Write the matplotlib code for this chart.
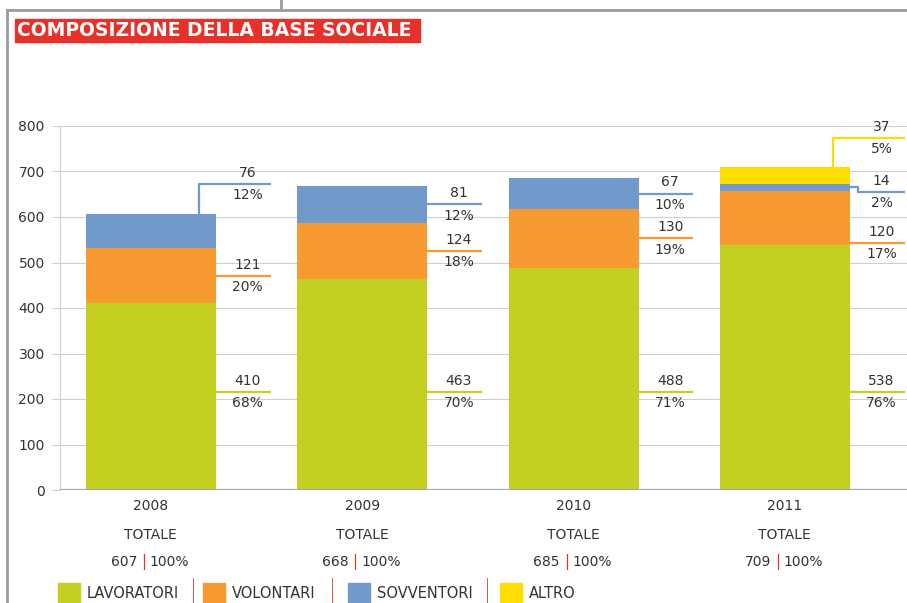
import numpy as np
import matplotlib.pyplot as plt
from matplotlib.patches import Rectangle
from matplotlib.lines import Line2D

# data
years = ['2008', '2009', '2010', '2011']
lavoratori = [410, 463, 488, 538]
volontari = [121, 124, 130, 120]
sovventori = [76, 81, 67, 14]
altro = [0, 0, 0, 37]
pct_lav = ['68%', '70%', '71%', '76%']
pct_vol = ['20%', '18%', '19%', '17%']
pct_sov = ['12%', '12%', '10%', '2%']
pct_altro = ['', '', '', '5%']
totals = [607, 668, 685, 709]

GREEN = '#C3CF21'
ORANGE = '#F79A31'
BLUE = '#7199C9'
YELLOW = '#FFDD00'
RED = '#E8302A'
TXT = '#333333'
GRID = '#CFCFCF'

W, H = 907, 603


def fx(px):
    return px / W


def fy(py):
    return 1 - py / H


fig = plt.figure(figsize=(W / 100, H / 100), dpi=100)
ax = fig.add_axes([fx(60), fy(490), fx(907) - fx(60), fy(126) - fy(490)])

x = np.arange(len(years))
bw = 0.615
lav = np.array(lavoratori)
vol = np.array(volontari)
sov = np.array(sovventori)
alt = np.array(altro)

ax.bar(x, lav, bw, color=GREEN, zorder=2)
ax.bar(x, vol, bw, bottom=lav, color=ORANGE, zorder=2)
ax.bar(x, sov, bw, bottom=lav + vol, color=BLUE, zorder=2)
ax.bar(x, alt, bw, bottom=lav + vol + sov, color=YELLOW, zorder=2)

ax.set_xlim(-0.43, 3.578)
ax.set_ylim(0, 800)
ax.set_yticks(range(0, 801, 100))
ax.set_xticks([])
ax.grid(axis='y', color=GRID, lw=0.8, zorder=0)
for s in ['top', 'right', 'bottom']:
    ax.spines[s].set_visible(False)
ax.spines['left'].set_color(GRID)
ax.spines['left'].set_linewidth(0.8)
ax.tick_params(axis='y', colors=GRID, length=6, width=0.8, labelcolor=TXT,
               labelsize=10, pad=5)
ax.axhline(0, color='#A8A8A8', lw=1.6, zorder=3)

LL = 0.26  # length of the label leader lines


def put_label(xs, ys, val, pct, color, tx):
    ax.add_line(Line2D(xs, ys, color=color, lw=1.6, zorder=4, clip_on=False,
                       solid_capstyle='butt'))
    ax.annotate(str(val), (tx, ys[-1]), xytext=(0, 3), textcoords='offset points',
                ha='center', va='bottom', fontsize=10, color=TXT)
    ax.annotate(pct, (tx, ys[-1]), xytext=(0, -3), textcoords='offset points',
                ha='center', va='top', fontsize=10, color=TXT)


LAV_Y = 215
for i in range(len(years)):
    right = x[i] + bw / 2
    tx = right + 0.15
    top = totals[i]
    # lavoratori
    put_label([right, right + LL], [LAV_Y, LAV_Y], lav[i], pct_lav[i], GREEN, tx)
    # volontari
    vy = lav[i] + vol[i] / 2
    if alt[i] > 0:
        vy = lav[i] + 5
    put_label([right, right + LL], [vy, vy], vol[i], pct_vol[i], ORANGE, tx)
    # sovventori
    sy = lav[i] + vol[i] + sov[i] / 2
    if i == 0:
        xv = right - 0.08
        put_label([xv, xv, right + LL], [top, top + 65, top + 65],
                  sov[i], pct_sov[i], BLUE, tx)
    elif alt[i] > 0:
        put_label([right, right + 0.04, right + 0.04, right + LL],
                  [sy, sy, sy - 10, sy - 10], sov[i], pct_sov[i], BLUE, tx)
    else:
        put_label([right, right + LL], [sy, sy], sov[i], pct_sov[i], BLUE, tx)
    # altro
    if alt[i] > 0:
        xv = right - 0.08
        put_label([xv, xv, right + LL], [top, top + 65, top + 65],
                  alt[i], pct_altro[i], YELLOW, tx)

# labels under the bars
tr = ax.get_xaxis_transform()
for i, yr in enumerate(years):
    ax.text(x[i], -0.044, yr, transform=tr, ha='center', va='center',
            fontsize=10, color=TXT)
    ax.text(x[i], -0.124, 'TOTALE', transform=tr, ha='center', va='center',
            fontsize=10, color=TXT)
    sep = x[i] - 0.035
    ax.text(sep - 0.03, -0.198, str(totals[i]), transform=tr, ha='right',
            va='center', fontsize=10, color=TXT)
    ax.text(sep, -0.198, '|', transform=tr, ha='center', va='center',
            fontsize=10.5, color=RED)
    ax.text(sep + 0.03, -0.198, '100%', transform=tr, ha='left', va='center',
            fontsize=10, color=TXT)

# legend
legend_items = ['LAVORATORI', 'VOLONTARI', 'SOVVENTORI', 'ALTRO']
legend_colors = [GREEN, ORANGE, BLUE, YELLOW]
box_x = [58, 203, 348, 500]
sep_x = [193, 332, 487]
for lbl, c, bx in zip(legend_items, legend_colors, box_x):
    fig.patches.append(Rectangle((fx(bx), fy(604)), fx(22), fy(583) - fy(604),
                                 transform=fig.transFigure, color=c))
    fig.text(fx(bx + 29), fy(594), lbl, ha='left', va='center',
             fontsize=10.5, color=TXT)
for sx in sep_x:
    fig.add_artist(Line2D([fx(sx), fx(sx)], [fy(603), fy(578)],
                          transform=fig.transFigure, color=RED, lw=0.6))

# title box
fig.patches.append(Rectangle((fx(15), fy(42)), fx(405), fy(19) - fy(42),
                             transform=fig.transFigure, color=RED))
fig.text(fx(17), fy(31), 'COMPOSIZIONE DELLA BASE SOCIALE', ha='left',
         va='center', fontsize=13.5, fontweight='bold', color='white')

# page frame
frame = '#9C9C9C'
fig.add_artist(Line2D([fx(7), fx(907)], [fy(10), fy(10)],
                      transform=fig.transFigure, color=frame, lw=2))
fig.add_artist(Line2D([fx(7), fx(7)], [fy(10), fy(603)],
                      transform=fig.transFigure, color=frame, lw=2))
fig.add_artist(Line2D([fx(281), fx(281)], [fy(0), fy(10)],
                      transform=fig.transFigure, color=frame, lw=2))

fig.savefig('out.png', dpi=100)
